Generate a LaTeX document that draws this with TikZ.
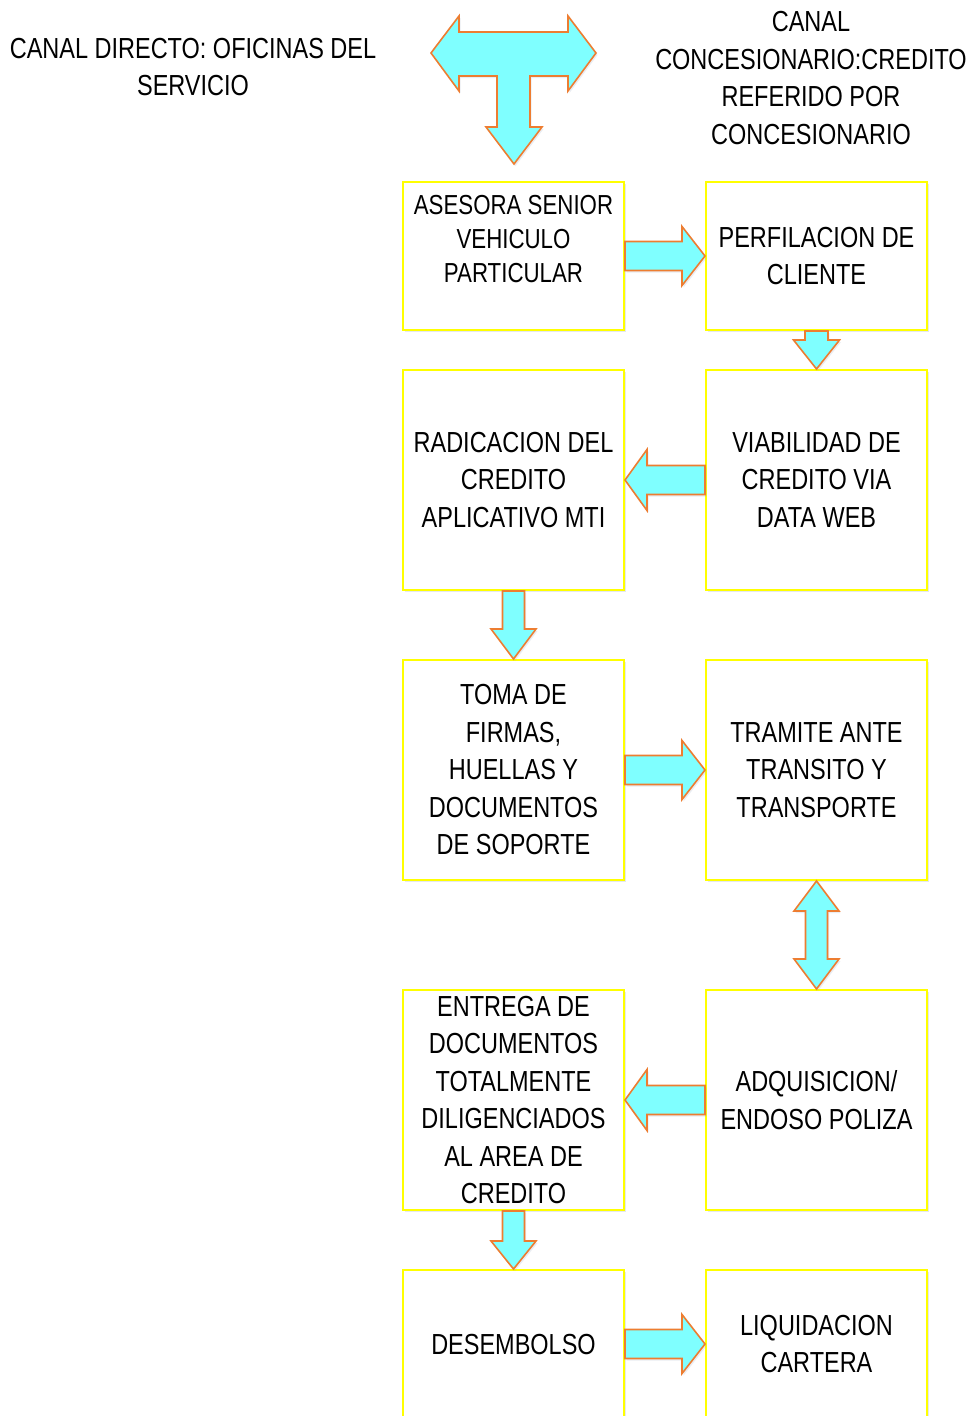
\documentclass[tikz,border=0pt]{standalone}
\usepackage{fontspec}
\setmainfont{Liberation Sans}[FakeStretch=0.81]
\usetikzlibrary{calc,shadows}

\definecolor{boxline}{RGB}{255,255,0}
\definecolor{arrfill}{RGB}{127,255,255}
\definecolor{arrline}{RGB}{237,125,49}
\definecolor{shade}{RGB}{150,165,190}

\tikzset{
  stepbox/.style={draw=boxline, line width=2pt, fill=white,
    minimum width=221pt, minimum height=220pt, inner sep=0pt, align=center,
    font=\fontsize{29}{37.5}\selectfont,
    drop shadow={fill=shade, opacity=0.25, shadow xshift=1.5pt, shadow yshift=-2pt}},
  shortbox/.style={stepbox, minimum height=148pt},
  blockarr/.style={draw=arrline, fill=arrfill, line width=1.6pt, line join=miter,
    drop shadow={fill=shade, opacity=0.2, shadow xshift=1.5pt, shadow yshift=-2pt}},
  caption/.style={align=center, font=\fontsize{29}{37.5}\selectfont}
}

% block arrow from #1 to #2: shaft half-width #3, head half-width #4, head length #5
\newcommand\blockarrow[5]{%
  \coordinate (ah) at ($(#2)!#5!(#1)$);
  \draw[blockarr] ($(#1)!#3!90:(#2)$) -- ($(ah)!#3!90:(#2)$) -- ($(ah)!#4!90:(#2)$)
    -- (#2) -- ($(ah)!#4!-90:(#2)$) -- ($(ah)!#3!-90:(#2)$) -- ($(#1)!#3!-90:(#2)$) -- cycle;}

% block arrow with heads at both ends
\newcommand\doublearrow[5]{%
  \coordinate (ha) at ($(#1)!#5!(#2)$);
  \coordinate (hb) at ($(#2)!#5!(#1)$);
  \draw[blockarr] (#1) -- ($(ha)!#4!90:(#2)$) -- ($(ha)!#3!90:(#2)$) -- ($(hb)!#3!90:(#2)$)
    -- ($(hb)!#4!90:(#2)$) -- (#2) -- ($(hb)!#4!-90:(#2)$) -- ($(hb)!#3!-90:(#2)$)
    -- ($(ha)!#3!-90:(#2)$) -- ($(ha)!#4!-90:(#2)$) -- cycle;}

\begin{document}
\begin{tikzpicture}[x=1pt, y=-1pt]
\useasboundingbox[fill=white] (0,0) rectangle (972,1416);

% channel headings
\node[caption] (directo) at (193,67) {CANAL DIRECTO: OFICINAS DEL\\SERVICIO};
\node[caption] (concesion) at (811,78) {CANAL\\CONCESIONARIO:CREDITO\\REFERIDO POR\\CONCESIONARIO};

% entry arrow: two channels merging into the process
\draw[blockarr] (431,53) -- (459,16) -- (459,32) -- (568,32) -- (568,16) -- (596,53)
  -- (568,91) -- (568,76) -- (530,76) -- (530,127) -- (542,127) -- (514,164)
  -- (486,127) -- (497,127) -- (497,76) -- (459,76) -- (459,91) -- cycle;

% process steps
\node[shortbox, font=\fontsize{27.5}{34}\selectfont] (asesora) at (513.5,256)
  {ASESORA SENIOR\\VEHICULO\\PARTICULAR\\~};
\node[shortbox] (perfil) at (816.5,256) {PERFILACION DE\\CLIENTE};
\node[stepbox] (radica) at (513.5,480) {RADICACION DEL\\CREDITO\\APLICATIVO MTI};
\node[stepbox] (viab) at (816.5,480) {VIABILIDAD DE\\CREDITO VIA\\DATA WEB};
\node[stepbox] (firmas) at (513.5,770) {TOMA DE\\FIRMAS,\\HUELLAS Y\\DOCUMENTOS\\DE SOPORTE};
\node[stepbox] (tramite) at (816.5,770) {TRAMITE ANTE\\TRANSITO Y\\TRANSPORTE};
\node[stepbox] (entrega) at (513.5,1100) {ENTREGA DE\\DOCUMENTOS\\TOTALMENTE\\DILIGENCIADOS\\AL AREA DE\\CREDITO};
\node[stepbox] (poliza) at (816.5,1100) {ADQUISICION/\\ENDOSO POLIZA};
\node[shortbox] (desembolso) at (513.5,1344) {DESEMBOLSO};
\node[shortbox] (cartera) at (816.5,1344) {LIQUIDACION\\CARTERA};

% flow arrows
\blockarrow{asesora.east}{perfil.west}{14.5pt}{29.5pt}{23pt}
\blockarrow{perfil.south}{viab.north}{11.5pt}{23pt}{29pt}
\blockarrow{viab.west}{radica.east}{14.5pt}{30.5pt}{22pt}
\blockarrow{radica.south}{firmas.north}{11pt}{22.5pt}{30pt}
\blockarrow{firmas.east}{tramite.west}{14.5pt}{29.5pt}{23pt}
\doublearrow{tramite.south}{poliza.north}{11pt}{22.5pt}{30pt}
\blockarrow{poliza.west}{entrega.east}{14.5pt}{30.5pt}{22pt}
\blockarrow{entrega.south}{desembolso.north}{11pt}{22.5pt}{28pt}
\blockarrow{desembolso.east}{cartera.west}{14.5pt}{29.5pt}{23pt}
\end{tikzpicture}
\end{document}
